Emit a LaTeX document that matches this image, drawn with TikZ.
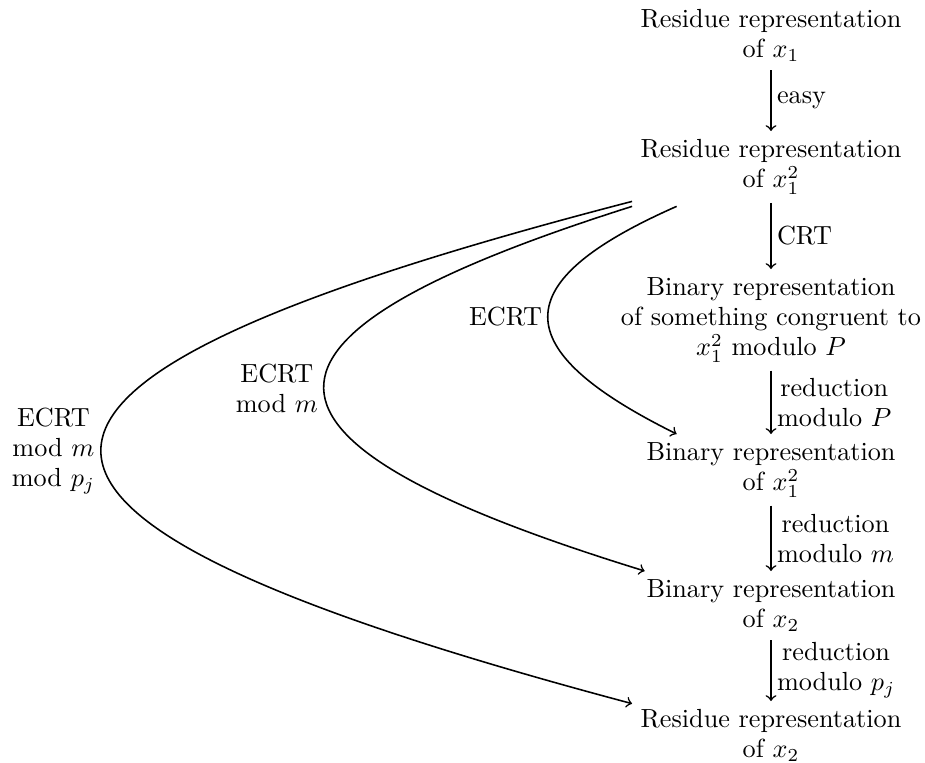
\documentclass[tikz,border=0pt]{standalone}
\usepackage{amsmath}

\begin{document}
\begin{tikzpicture}[x=0.3817pt, y=-0.3817pt, >=to, semithick,
  every node/.style={font=\fontsize{10}{11.45}\selectfont, align=center},
  rep/.style={anchor=north, inner sep=3pt},
  lab/.style={inner sep=2pt}]

\useasboundingbox (0,0) rectangle (925,762);

% The column of representations
\node[rep] (resx)  at (771,1)   {Residue representation\\ of $x_1$};
\node[rep] (ressq) at (771,131) {Residue representation\\ of $x_1^2$};
\node[rep] (binP)  at (771,269) {Binary representation\\ of something congruent to\\ $x_1^2$ modulo $P$};
\node[rep] (binsq) at (771,434) {Binary representation\\ of $x_1^2$};
\node[rep] (binx)  at (771,571) {Binary representation\\ of $x_2$};
\node[rep] (resy)  at (771,701) {Residue representation\\ of $x_2$};

% Steps straight down
\draw[->] (resx)  -- node[lab, right] {easy} (ressq);
\draw[->] (ressq) -- node[lab, right] {CRT} (binP);
\draw[->] (binP)  -- node[lab, right] {reduction\\ modulo $P$} (binsq);
\draw[->] (binsq) -- node[lab, right] {reduction\\ modulo $m$} (binx);
\draw[->] (binx)  -- node[lab, right] {reduction\\ modulo $p_j$} (resy);

% Shortcuts by ECRT
\draw[->] ([xshift=17pt, yshift=-1.3pt]ressq.south west)
  .. controls (505,282) and (505,349) .. node[lab, left] {ECRT}
  ([xshift=14.8pt]binsq.north west);
\draw[->] ([yshift=-1.3pt]ressq.south west)
  .. controls (219,337) and (219,440) .. node[lab, left] {ECRT\\ mod $m$}
  ([xshift=2.6pt]binx.north west);
\draw[->] ([yshift=0.6pt]ressq.south west)
  .. controls (-76,385) and (-76,515) .. node[lab, left] {ECRT\\ mod $m$\\ mod $p_j$}
  ([yshift=-1pt]resy.north west);

\end{tikzpicture}
\end{document}
